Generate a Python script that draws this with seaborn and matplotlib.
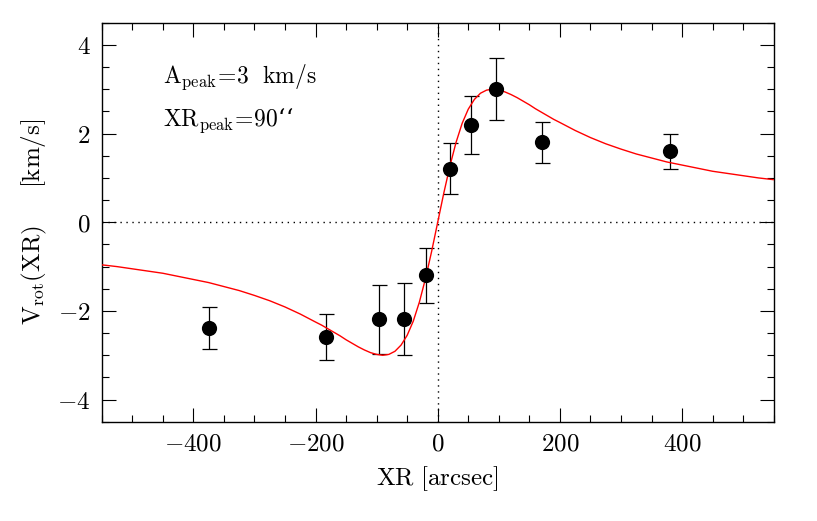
import numpy as np
import pandas as pd
import matplotlib as mpl
mpl.use("Agg")
import matplotlib.pyplot as plt
import seaborn as sns
from matplotlib.ticker import MultipleLocator, FuncFormatter

# measured points: position, rotation velocity, error
xr = [-374, -183, -96, -55, -19, 20, 55, 95, 171, 380]
vrot = [-2.39, -2.59, -2.19, -2.19, -1.20, 1.21, 2.20, 3.00, 1.80, 1.60]
verr = [0.47, 0.51, 0.77, 0.81, 0.62, 0.57, 0.65, 0.70, 0.46, 0.40]

# model curve (A_peak=3 km/s, XR_peak=90'')
curve_x = [-550, -525, -500, -475, -450, -425, -400, -375, -350, -325, -300, -275,
           -250, -225, -200, -190, -180, -170, -160, -150, -140, -130, -120, -110,
           -100, -90, -80, -70, -60, -50, -40, -30, -20, -10, 0,
           10, 20, 30, 40, 50, 60, 70, 80, 90, 100, 110, 120, 130, 140, 150, 160,
           170, 180, 190, 200, 225, 250, 275, 300, 325, 350, 375, 400, 425, 450,
           475, 500, 525, 550]
curve_v = [-0.96, -1.00, -1.05, -1.10, -1.15, -1.22, -1.29, -1.36, -1.45, -1.54, -1.65, -1.77,
           -1.91, -2.07, -2.25, -2.32, -2.40, -2.48, -2.56, -2.65, -2.73, -2.81, -2.88, -2.94,
           -2.98, -3.00, -2.98, -2.91, -2.77, -2.55, -2.23, -1.80, -1.27, -0.66, 0.0,
           0.66, 1.27, 1.80, 2.23, 2.55, 2.77, 2.91, 2.98, 3.00, 2.98, 2.94, 2.88, 2.81, 2.73, 2.65, 2.56,
           2.48, 2.40, 2.32, 2.25, 2.07, 1.91, 1.77, 1.65, 1.54, 1.45, 1.36, 1.29, 1.22, 1.15,
           1.10, 1.05, 1.00, 0.96]

pts = pd.DataFrame({"XR": xr, "V": vrot, "err": verr})
model = pd.DataFrame({"XR": curve_x, "V": curve_v})

sns.set_theme(style="ticks")
plt.rcParams["font.family"] = ["DejaVu Serif"]
plt.rcParams["mathtext.fontset"] = "cm"
plt.rcParams["text.color"] = "black"
plt.rcParams["axes.labelcolor"] = "black"

fig = plt.figure(figsize=(8.17, 5.21), dpi=100)
ax = fig.add_axes([0.1245, 0.1904, 0.8225, 0.766])

ax.axhline(0, color="black", lw=1.0, ls=(0, (1, 3.3)), zorder=1)
ax.axvline(0, color="black", lw=1.0, ls=(0, (1, 3.3)), zorder=1)

sns.lineplot(data=model, x="XR", y="V", color="red", lw=1.0, ax=ax, zorder=3)
ax.errorbar(pts["XR"], pts["V"], yerr=pts["err"], fmt="none", ecolor="black",
            elinewidth=0.9, capsize=5.4, capthick=0.9, zorder=2)
sns.scatterplot(data=pts, x="XR", y="V", color="black", s=120, linewidth=0,
                ax=ax, zorder=4)

ax.set_xlim(-550, 550)
ax.set_ylim(-4.5, 4.5)
ax.xaxis.set_major_locator(MultipleLocator(200))
ax.xaxis.set_minor_locator(MultipleLocator(50))
ax.yaxis.set_major_locator(MultipleLocator(2))
ax.yaxis.set_minor_locator(MultipleLocator(0.5))
fmt = FuncFormatter(lambda v, p: r"$%d$" % round(v))
ax.xaxis.set_major_formatter(fmt)
ax.yaxis.set_major_formatter(fmt)
ax.tick_params(which="both", direction="in", top=True, right=True,
               width=0.8, labelsize=18, colors="black")
ax.tick_params(which="major", length=10, pad=8)
ax.tick_params(which="minor", length=5)
for s in ax.spines.values():
    s.set_linewidth(1.0)
    s.set_color("black")

ax.set_xlabel(r"$\mathrm{XR\ [arcsec]}$", fontsize=18, labelpad=6)
ax.set_ylabel(r"$\mathrm{V_{rot}(XR)\quad\ \ [km/s]}$", fontsize=18)
ax.yaxis.set_label_coords(-0.078, 0.5)

ax.text(-450, 3.15, r"$\mathrm{A_{peak}\!=\!3\ \ km/s}$", fontsize=17, va="baseline", ha="left")
ax.text(-450, 2.18, r"$\mathrm{XR_{peak}\!=\!90}$" + "\u2018\u2018", fontsize=17,
        va="baseline", ha="left")

fig.savefig("out.png", dpi=100)
